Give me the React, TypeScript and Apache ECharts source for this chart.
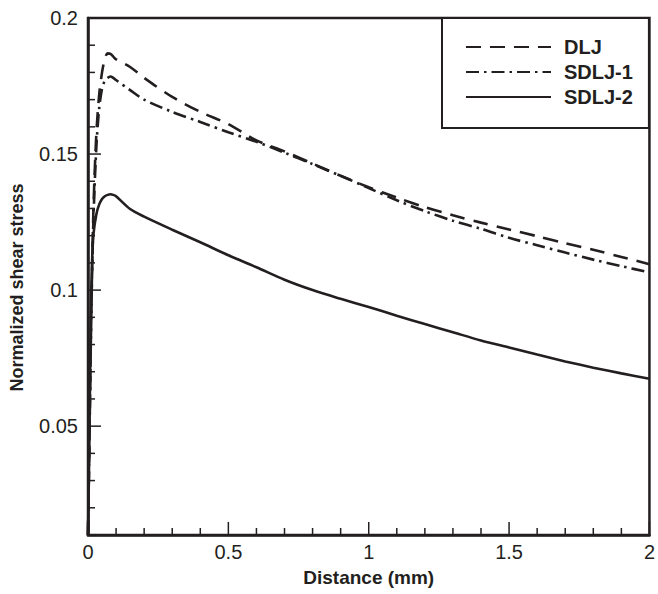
import React, { useEffect, useRef } from "react";
import * as echarts from "echarts";

const distance = [0, 0.005, 0.01, 0.015, 0.02, 0.03, 0.04, 0.05, 0.06, 0.07, 0.08, 0.09, 0.1, 0.15, 0.2, 0.3, 0.4, 0.5, 0.6, 0.7, 0.8, 0.9, 1.0, 1.1, 1.2, 1.3, 1.4, 1.5, 1.6, 1.7, 1.8, 1.9, 2.0];

const dlj = [0.01, 0.045, 0.08, 0.11, 0.132, 0.158, 0.172, 0.18, 0.185, 0.187, 0.1868, 0.1858, 0.1848, 0.182, 0.178, 0.171, 0.1655, 0.161, 0.155, 0.151, 0.1465, 0.142, 0.1378, 0.134, 0.1305, 0.1275, 0.1248, 0.1223, 0.1198, 0.1172, 0.1148, 0.1122, 0.1095];

const sdlj1 = [0.01, 0.045, 0.08, 0.108, 0.128, 0.153, 0.167, 0.174, 0.177, 0.178, 0.1785, 0.178, 0.1772, 0.1735, 0.17, 0.1655, 0.1618, 0.158, 0.1545, 0.1505, 0.1463, 0.142, 0.1375, 0.133, 0.129, 0.1255, 0.1225, 0.1192, 0.1165, 0.1138, 0.1112, 0.1088, 0.1065];

const sdlj2 = [0.01, 0.045, 0.09, 0.112, 0.121, 0.128, 0.1315, 0.1335, 0.1345, 0.135, 0.1352, 0.135, 0.1345, 0.1298, 0.127, 0.1222, 0.1176, 0.1128, 0.1084, 0.1038, 0.1, 0.0968, 0.0938, 0.0906, 0.0875, 0.0845, 0.0815, 0.0789, 0.0763, 0.0738, 0.0715, 0.0694, 0.0674];

const seriesNames = ["DLJ", "SDLJ-1", "SDLJ-2"];
const xMajorTicks = [0, 0.5, 1, 1.5, 2];
const xMinorTicks = [0.1, 0.2, 0.3, 0.4, 0.6, 0.7, 0.8, 0.9, 1.1, 1.2, 1.3, 1.4, 1.6, 1.7, 1.8, 1.9];
const yMajorTicks = [0.05, 0.1, 0.15, 0.2];
const yMinorTicks = [0.01, 0.02, 0.03, 0.04, 0.06, 0.07, 0.08, 0.09, 0.11, 0.12, 0.13, 0.14, 0.16, 0.17, 0.18, 0.19];

const INK = "#231f20";
const FONT = "Liberation Sans, Arial, sans-serif";

export default function App() {
  const ref = useRef<HTMLDivElement>(null);
  useEffect(() => {
    if (!ref.current) return;
    const chart = echarts.init(ref.current, undefined, { renderer: "svg" });
    const pair = (ys: number[]) => distance.map((x, i) => [x, ys[i]]);
    const lineSeries = (name: string, ys: number[], type: any) => ({
      name,
      type: "line",
      data: pair(ys),
      symbol: "none",
      smooth: 0.3,
      lineStyle: { color: INK, width: 2.6, type },
      itemStyle: { color: INK },
      z: 3,
    });
    chart.setOption({
      animation: false,
      backgroundColor: "#fff",
      grid: { left: 87, right: 4, top: 18, bottom: 59 },
      legend: {
        orient: "vertical",
        left: 442,
        top: 18,
        padding: [19, 16, 21, 23],
        itemGap: 5,
        itemWidth: 85,
        itemHeight: 14,
        borderColor: INK,
        borderWidth: 2,
        backgroundColor: "#fff",
        borderRadius: 0,
        itemStyle: { opacity: 0 },
        textStyle: { fontFamily: FONT, fontWeight: "bold", fontSize: 20, lineHeight: 20, color: INK, padding: [0, 0, 0, 8] },
        data: seriesNames,
        z: 10,
      },
      xAxis: {
        type: "value",
        min: 0,
        max: 2,
        interval: 0.5,
        name: "Distance (mm)",
        nameLocation: "middle",
        nameGap: 33,
        nameTextStyle: { fontFamily: FONT, fontWeight: "bold", fontSize: 19, color: INK },
        axisLine: { show: true, onZero: false, lineStyle: { color: INK, width: 2.5 } },
        axisTick: { show: false },
        axisLabel: { fontFamily: FONT, fontSize: 20, color: INK, margin: 7 },
        splitLine: { show: false },
      },
      yAxis: {
        type: "value",
        min: 0.01,
        max: 0.2,
        name: "Normalized shear stress",
        nameLocation: "middle",
        nameGap: 62,
        nameTextStyle: { fontFamily: FONT, fontWeight: "bold", fontSize: 18, color: INK, padding: [0, 22, 0, 0] },
        axisLine: { show: true, onZero: false, lineStyle: { color: INK, width: 2.5 } },
        axisTick: { show: false },
        axisLabel: { fontFamily: FONT, fontSize: 20, color: INK, margin: 10, customValues: yMajorTicks },
        splitLine: { show: false },
      },
      series: [
        lineSeries(seriesNames[0], dlj, [15, 9]),
        lineSeries(seriesNames[1], sdlj1, [13, 5, 2.5, 5]),
        lineSeries(seriesNames[2], sdlj2, "solid"),
      ],
    });

    const px = (x: number, y: number) => chart.convertToPixel({ xAxisIndex: 0, yAxisIndex: 0 }, [x, y]) as number[];
    const [left, bottom] = px(0, 0.01);
    const [right, top] = px(2, 0.2);
    const tickLine = (x1: number, y1: number, x2: number, y2: number) => ({
      type: "line",
      silent: true,
      z: 5,
      shape: { x1, y1, x2, y2 },
      style: { stroke: INK, lineWidth: 1.5 },
    });
    const elements: any[] = [
      {
        type: "rect",
        silent: true,
        z: 5,
        shape: { x: left, y: top, width: right - left, height: bottom - top },
        style: { fill: "none", stroke: INK, lineWidth: 2.5 },
      },
    ];
    xMajorTicks.forEach((v) => {
      const x = px(v, 0.01)[0];
      elements.push(tickLine(x, bottom, x, bottom - 13));
    });
    xMinorTicks.forEach((v) => {
      const x = px(v, 0.01)[0];
      elements.push(tickLine(x, bottom, x, bottom - 7));
    });
    yMajorTicks.forEach((v) => {
      const y = px(0, v)[1];
      elements.push(tickLine(left, y, left + 13, y));
    });
    yMinorTicks.forEach((v) => {
      const y = px(0, v)[1];
      elements.push(tickLine(left, y, left + 7, y));
    });
    chart.setOption({ graphic: { elements } });

    return () => chart.dispose();
  }, []);
  return <div ref={ref} style={{ position: "absolute", left: 0, top: 0, width: 658, height: 594 }} />;
}
